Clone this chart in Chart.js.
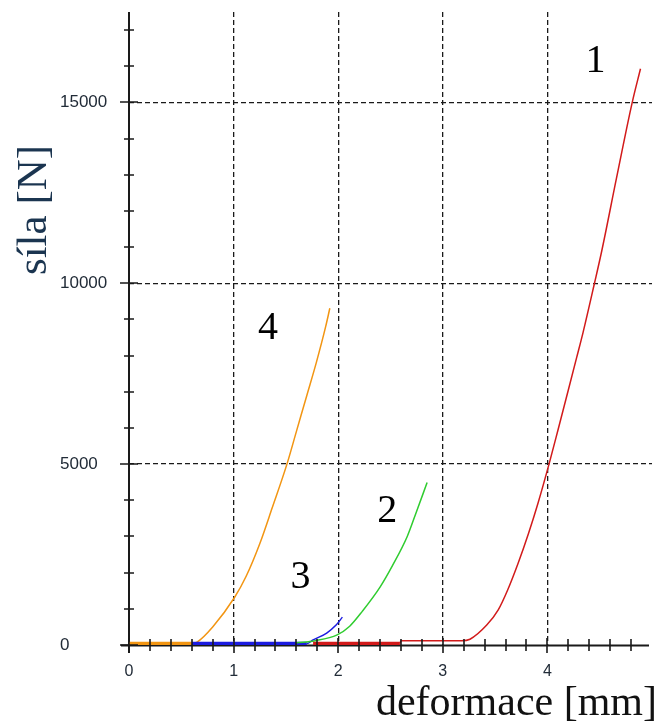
<!DOCTYPE html>
<html>
<head>
<meta charset="utf-8">
<script src="https://cdn.jsdelivr.net/npm/chart.js@4.4.1/dist/chart.umd.min.js"></script>
<style>
  html, body { margin: 0; padding: 0; background: #fff; }
</style>
</head>
<body>
<canvas id="myChart" width="665" height="727"></canvas>
<script>
// deformace [mm] vs síla [N], four samples
const x1 = [1.76, 2.59, 2.60, 3.18, 3.26, 3.42, 3.53, 3.62, 3.72, 3.82, 3.91, 4.02, 4.10, 4.20, 4.28, 4.34, 4.45, 4.52, 4.66, 4.81, 4.89];
const y1 = [40, 40, 120, 120, 160, 550, 970, 1520, 2260, 3090, 3920, 5050, 5930, 7050, 7950, 8630, 10000, 10900, 12900, 14990, 15930];

const x2 = [1.60, 1.78, 1.99, 2.11, 2.23, 2.40, 2.52, 2.66, 2.75, 2.85];
const y2 = [60, 120, 280, 520, 930, 1600, 2200, 3000, 3700, 4490];

const x3 = [0.60, 1.70, 1.76, 1.89, 1.98, 2.04];
const y3 = [40, 40, 140, 330, 550, 770];

const x4 = [0.00, 0.60, 0.65, 0.80, 1.01, 1.12, 1.25, 1.37, 1.51, 1.60, 1.70, 1.79, 1.88, 1.92];
const y4 = [40, 40, 80, 500, 1320, 1900, 2800, 3800, 5000, 5900, 6900, 7800, 8800, 9310];

const seriesColors = ['#d21a1a', '#2fcc2f', '#1c1ce0', '#f29512'];

// axis ticks
const xLabelTicks = [0, 1, 2, 3, 4];
const yLabelTicks = [0, 5000, 10000, 15000];
const xSmallTicks = [0, 0.2, 0.4, 0.6, 0.8, 1, 1.2, 1.4, 1.6, 1.8, 2, 2.2, 2.4, 2.6, 2.8, 3, 3.2, 3.4, 3.6, 3.8, 4, 4.2, 4.4, 4.6, 4.8];
const ySmallTicks = [0, 1000, 2000, 3000, 4000, 5000, 6000, 7000, 8000, 9000, 10000, 11000, 12000, 13000, 14000, 15000, 16000, 17000];

// curve numbers
const curveNames = ['1', '2', '3', '4'];
const nameX = [4.46, 2.47, 1.64, 1.33];
const nameY = [16120, 3680, 1860, 8740];

function points(xs, ys) {
  return xs.map((v, i) => ({ x: v, y: ys[i] }));
}

function lineSet(xs, ys, color) {
  return {
    data: points(xs, ys),
    showLine: true,
    borderColor: color,
    backgroundColor: color,
    borderWidth: 1.5,
    pointRadius: 0,
    cubicInterpolationMode: 'monotone',
    segment: {
      // flat parts lying on the axis look heavier in the original
      borderWidth: ctx => (ctx.p0.parsed.y < 60 && ctx.p1.parsed.y < 60) ? 3.5 : 1.5
    }
  };
}

const axisPlugin = {
  id: 'axisPlugin',
  beforeDatasetsDraw(chart) {
    const { ctx, chartArea: a } = chart;
    ctx.save();
    ctx.strokeStyle = '#1a1a1a';
    ctx.lineWidth = 2;
    ctx.beginPath();
    ctx.moveTo(a.left, a.top);
    ctx.lineTo(a.left, a.bottom + 8);
    ctx.moveTo(a.left - 8, a.bottom + 0.5);
    ctx.lineTo(a.right - 3, a.bottom + 0.5);
    ctx.stroke();
    ctx.restore();
  },
  afterDatasetsDraw(chart) {
    const { ctx, chartArea: a, scales: { x, y } } = chart;
    ctx.save();
    ctx.strokeStyle = '#1a1a1a';
    ctx.lineWidth = 1.6;
    ctx.beginPath();
    xSmallTicks.forEach(v => {
      const px = Math.round(x.getPixelForValue(v));
      const big = xLabelTicks.includes(v);
      ctx.moveTo(px, a.bottom - (big ? 7 : 6));
      ctx.lineTo(px, a.bottom + (big ? 8 : 6));
    });
    ySmallTicks.forEach(v => {
      const py = Math.round(y.getPixelForValue(v));
      const big = yLabelTicks.includes(v);
      ctx.moveTo(a.left - (big ? 9 : 5), py);
      ctx.lineTo(a.left + (big ? 9 : 5), py);
    });
    ctx.stroke();
    ctx.restore();
  },
  afterDraw(chart) {
    const { ctx, scales: { x, y } } = chart;
    ctx.save();
    ctx.fillStyle = '#000';
    ctx.font = '40px "Liberation Serif", "Times New Roman", serif';
    ctx.textAlign = 'center';
    ctx.textBaseline = 'middle';
    curveNames.forEach((t, i) => {
      ctx.fillText(t, x.getPixelForValue(nameX[i]), y.getPixelForValue(nameY[i]));
    });

    ctx.font = '42px "Liberation Serif", "Times New Roman", serif';
    ctx.textBaseline = 'alphabetic';
    ctx.textAlign = 'right';
    ctx.fillStyle = '#111';
    ctx.fillText('deformace [mm]', 657, 715);

    ctx.fillStyle = '#1b3550';
    ctx.font = '43px "Liberation Serif", "Times New Roman", serif';
    ctx.translate(46, 210);
    ctx.rotate(-Math.PI / 2);
    ctx.textAlign = 'center';
    ctx.fillText('síla [N]', 0, 0);
    ctx.restore();
  }
};

const gridColor = ctx => (ctx.tick && ctx.tick.value > 0) ? '#1a1a1a' : 'rgba(0,0,0,0)';

new Chart(document.getElementById('myChart').getContext('2d'), {
  type: 'scatter',
  data: {
    datasets: [
      lineSet(x1, y1, seriesColors[0]),
      lineSet(x2, y2, seriesColors[1]),
      lineSet(x3, y3, seriesColors[2]),
      lineSet(x4, y4, seriesColors[3])
    ]
  },
  options: {
    responsive: false,
    animation: false,
    devicePixelRatio: 1,
    layout: { padding: { left: 60, top: 12, right: 13, bottom: 0 } },
    plugins: {
      legend: { display: false },
      tooltip: { enabled: false }
    },
    scales: {
      x: {
        type: 'linear',
        min: 0,
        max: 5,
        afterBuildTicks: s => { s.ticks = xLabelTicks.map(v => ({ value: v })); },
        afterFit: s => {
          s.height = 82;
          s.paddingLeft = 0; s.paddingRight = 0;
        },
        ticks: {
          autoSkip: false,
          maxRotation: 0,
          padding: 17,
          color: '#222c38',
          font: { family: '"Liberation Sans", Arial, sans-serif', size: 16 },
          callback: v => String(v)
        },
        grid: { color: gridColor, lineWidth: 1.3, drawTicks: false },
        border: { display: false, dash: [5, 3] }
      },
      y: {
        type: 'linear',
        min: 0,
        max: 17500,
        afterBuildTicks: s => { s.ticks = yLabelTicks.map(v => ({ value: v })); },
        afterFit: s => {
          s.width = 69;
          s.paddingTop = 0; s.paddingBottom = 0;
        },
        ticks: {
          autoSkip: false,
          crossAlign: 'far',
          padding: 0,
          color: '#222c38',
          font: { family: '"Liberation Sans", Arial, sans-serif', size: 17 },
          callback: v => String(v)
        },
        grid: { color: gridColor, lineWidth: 1.3, drawTicks: false },
        border: { display: false, dash: [5, 3] }
      }
    }
  },
  plugins: [axisPlugin]
});
</script>
</body>
</html>
